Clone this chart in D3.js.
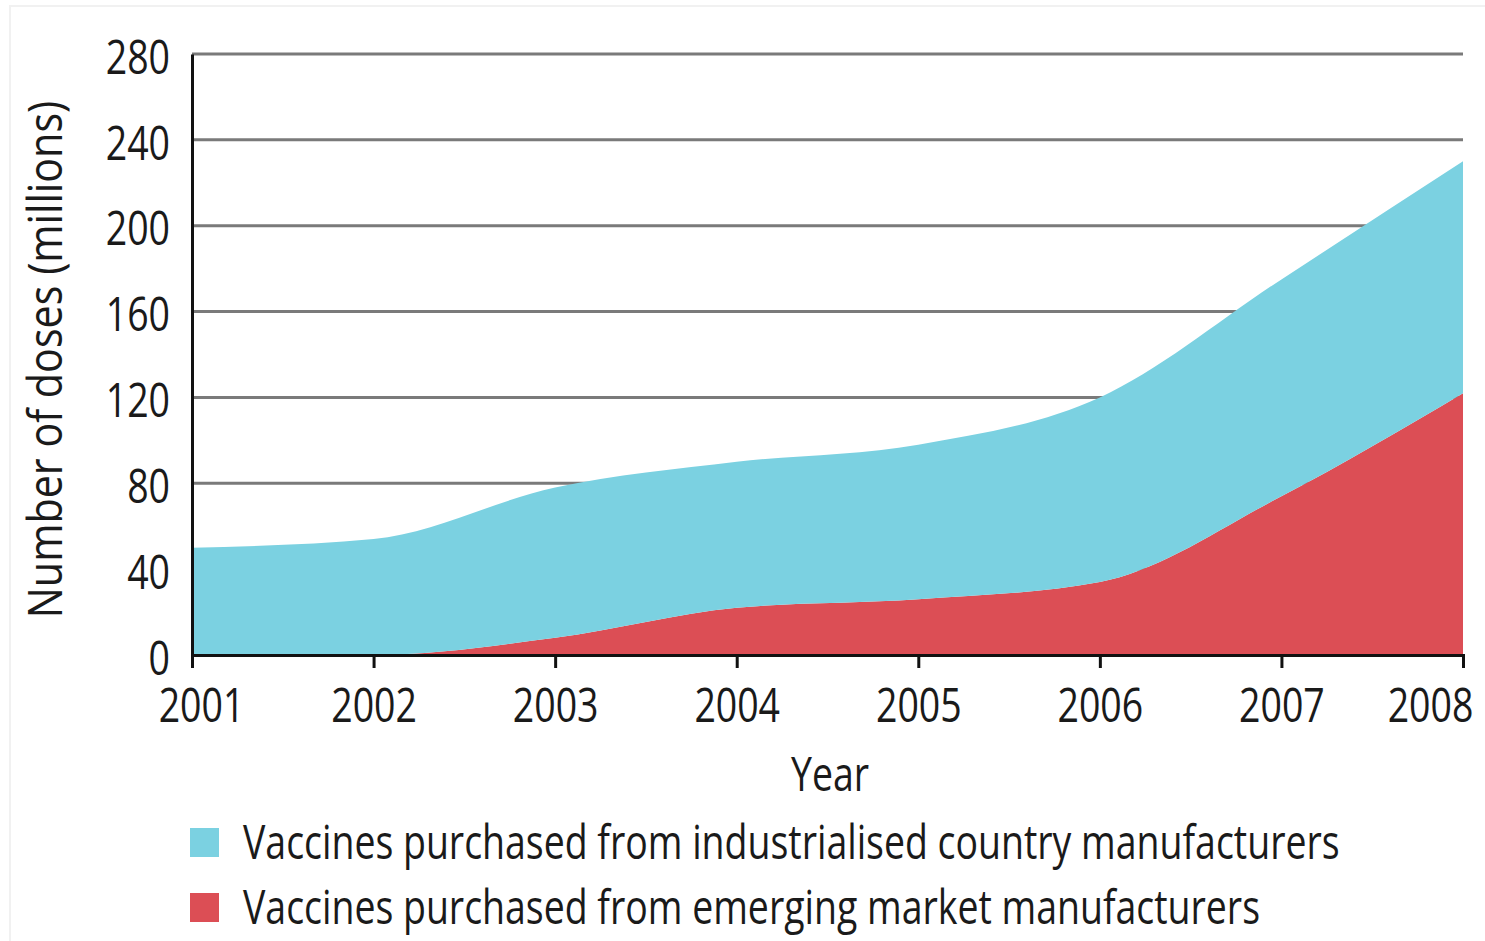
<!DOCTYPE html>
<html>

<head>
  <title>Vaccine doses</title>
  <script src="https://cdn.jsdelivr.net/npm/d3@7"></script>
  <style>
    body { margin: 0; background: #fff; }
    text { font-family: "Open Sans", sans-serif; fill: #1a1a1a; }
  </style>
</head>

<body>
  <svg width="1485" height="941" id="mainsvg"></svg>
  <script>
    // data (millions of doses)
    const years = [2001, 2002, 2003, 2004, 2005, 2006, 2007, 2008];
    const emerging = [0, 0, 8, 22, 26, 34, 74, 122];
    const industrialised = [50, 54, 70, 68, 72, 86, 101, 108];
    const yTicks = [0, 40, 80, 120, 160, 200, 240, 280];
    const seriesNames = ['Vaccines purchased from industrialised country manufacturers',
                         'Vaccines purchased from emerging market manufacturers'];

    const svg = d3.select('svg');
    const margin = {top: 54, left: 192, right: 22, bottom: 286};
    const width = +svg.attr('width');
    const height = +svg.attr('height');
    const fontSize = 48;

    // narrow the text horizontally, no condensed font is installed
    function condense(sel, k = 0.78) {
      sel.each(function() {
        const w = this.getComputedTextLength();
        d3.select(this).attr('textLength', w * k).attr('lengthAdjust', 'spacingAndGlyphs');
      });
    }

    // faint frame round the figure
    svg.append('rect')
      .attr('x', 10).attr('y', 6)
      .attr('width', width).attr('height', height)
      .attr('fill', 'none').attr('stroke', '#f1f1f1').attr('stroke-width', 2);

    const x = d3.scaleLinear().domain([2001, 2008]).range([margin.left, width - margin.right]);
    const y = d3.scaleLinear().domain([0, 280]).range([height - margin.bottom, margin.top]);

    const rows = years.map((yr, i) => ({year: yr, emerging: emerging[i], industrialised: industrialised[i]}));
    const stacked = d3.stack().keys(['emerging', 'industrialised'])(rows);
    const color = {emerging: '#dc4e55', industrialised: '#7bd1e1'};

    // gridlines
    svg.append('g').selectAll('line').data(yTicks.slice(1)).join('line')
      .attr('x1', x(2001)).attr('x2', x(2008))
      .attr('y1', d => y(d)).attr('y2', d => y(d))
      .attr('stroke', '#7a7a7a').attr('stroke-width', 3);

    const area = d3.area()
      .curve(d3.curveMonotoneX)
      .x(d => x(d.data.year))
      .y0(d => y(d[0]))
      .y1(d => y(d[1]));

    svg.append('g').selectAll('path').data(stacked).join('path')
      .attr('d', area)
      .attr('fill', d => color[d.key]);

    // axes
    const xAxis = svg.append('g')
      .attr('transform', `translate(0,${y(0)})`)
      .call(d3.axisBottom(x).tickValues(years).tickFormat(d3.format('d')).tickSize(13).tickPadding(20));
    xAxis.select('.domain').attr('stroke', '#111').attr('stroke-width', 3);
    xAxis.selectAll('.tick line').attr('stroke', '#111').attr('stroke-width', 3);
    xAxis.selectAll('.tick text')
      .attr('font-size', fontSize)
      .attr('font-family', null)
      .attr('fill', '#1a1a1a')
      .attr('dx', d => d == 2008 ? -33 : (d == 2001 ? 9 : 0))
      .call(condense);

    const yAxis = svg.append('g')
      .attr('transform', `translate(${x(2001)},0)`)
      .call(d3.axisLeft(y).tickValues(yTicks).tickSize(0).tickPadding(22));
    yAxis.select('.domain').attr('stroke', '#111').attr('stroke-width', 3);
    yAxis.selectAll('.tick text')
      .attr('font-size', fontSize)
      .attr('font-family', null)
      .attr('fill', '#1a1a1a')
      .attr('dy', '0.4em')
      .call(condense);

    // axis titles
    svg.append('text')
      .attr('x', 830).attr('y', 791)
      .attr('text-anchor', 'middle')
      .attr('font-size', fontSize)
      .text('Year')
      .call(condense);

    svg.append('text')
      .attr('transform', `translate(62,${(y(0) + y(280)) / 2 + 5}) rotate(-90)`)
      .attr('text-anchor', 'middle')
      .attr('font-size', fontSize)
      .text('Number of doses (millions)')
      .call(condense, 0.86);

    // legend
    const legend = svg.append('g').selectAll('g').data(['industrialised', 'emerging']).join('g')
      .attr('transform', (d, i) => `translate(190,${828 + i * 65})`);
    legend.append('rect')
      .attr('width', 29).attr('height', 29)
      .attr('fill', d => color[d]);
    legend.append('text')
      .attr('x', 53).attr('y', 31)
      .attr('font-size', fontSize)
      .text((d, i) => seriesNames[i])
      .call(condense);
  </script>
</body>

</html>
